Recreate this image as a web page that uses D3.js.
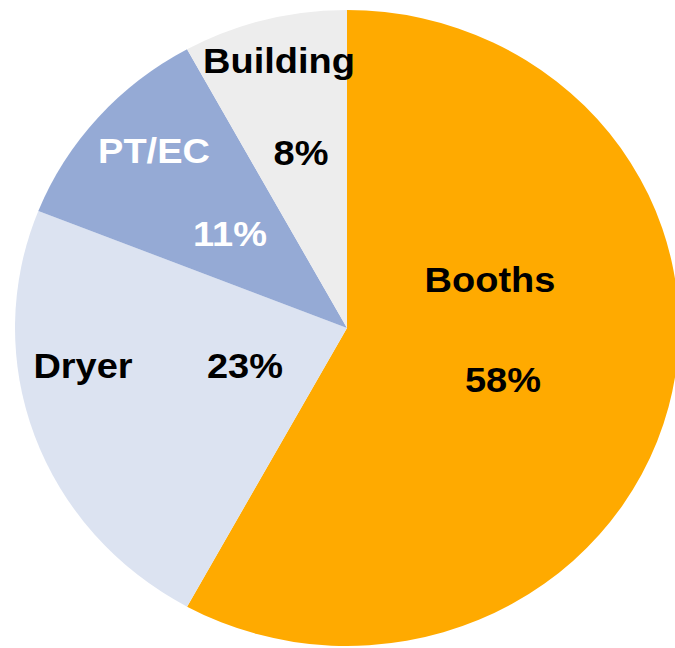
<!DOCTYPE html>
<html>
<head>
<meta charset="utf-8">
<script src="https://cdn.jsdelivr.net/npm/d3@7/dist/d3.min.js"></script>
<style>
  body { margin: 0; background: #fff; }
  text { font-family: "Liberation Sans", Arial, sans-serif; font-weight: bold; }
</style>
</head>
<body>
<div id="chart"></div>
<script>
// chart data
const categories = ["Booths", "Dryer", "PT/EC", "Building"];
const shares = [58, 23, 11, 8];
const colors = ["#FFAA00", "#DCE3F1", "#95AAD5", "#EDEDED"];
const textColors = ["#000", "#000", "#fff", "#000"];

// where the name / percent labels sit (page px, text baseline)
const nameLabelPos = { "Booths": [490, 292], "Dryer": [83, 378], "PT/EC": [154, 163], "Building": [279, 73] };
const pctLabelPos = { "Booths": [503, 392], "Dryer": [245, 378], "PT/EC": [230, 246], "Building": [301, 165] };

const width = 675, height = 648;
const cx = 347, cy = 328, radius = 318, stretchX = 1.044;

const svg = d3.select("#chart")
    .append("svg")
    .attr("width", width)
    .attr("height", height);

const data = categories.map((c, i) => ({ name: c, value: shares[i], color: colors[i], text: textColors[i] }));

const pie = d3.pie()
    .sort(null)
    .value(d => d.value);

const arc = d3.arc()
    .innerRadius(0)
    .outerRadius(radius);

// whole chart is slightly wider than tall in the original
const pieG = svg.append("g")
    .attr("transform", `translate(${cx},${cy}) scale(${stretchX},1)`);

pieG.selectAll("path")
    .data(pie(data))
    .enter().append("path")
    .attr("d", arc)
    .attr("fill", d => d.data.color);

const labels = svg.append("g");

labels.selectAll(".name")
    .data(data)
    .enter().append("text")
    .attr("class", "name")
    .attr("transform", d => `translate(${nameLabelPos[d.name][0]},${nameLabelPos[d.name][1]}) scale(1.055,1)`)
    .attr("text-anchor", "middle")
    .attr("font-size", 36)
    .attr("fill", d => d.text)
    .text(d => d.name);

labels.selectAll(".pct")
    .data(data)
    .enter().append("text")
    .attr("class", "pct")
    .attr("transform", d => `translate(${pctLabelPos[d.name][0]},${pctLabelPos[d.name][1]}) scale(1.055,1)`)
    .attr("text-anchor", "middle")
    .attr("font-size", 36)
    .attr("fill", d => d.text)
    .text(d => d.value + "%");
</script>
</body>
</html>
